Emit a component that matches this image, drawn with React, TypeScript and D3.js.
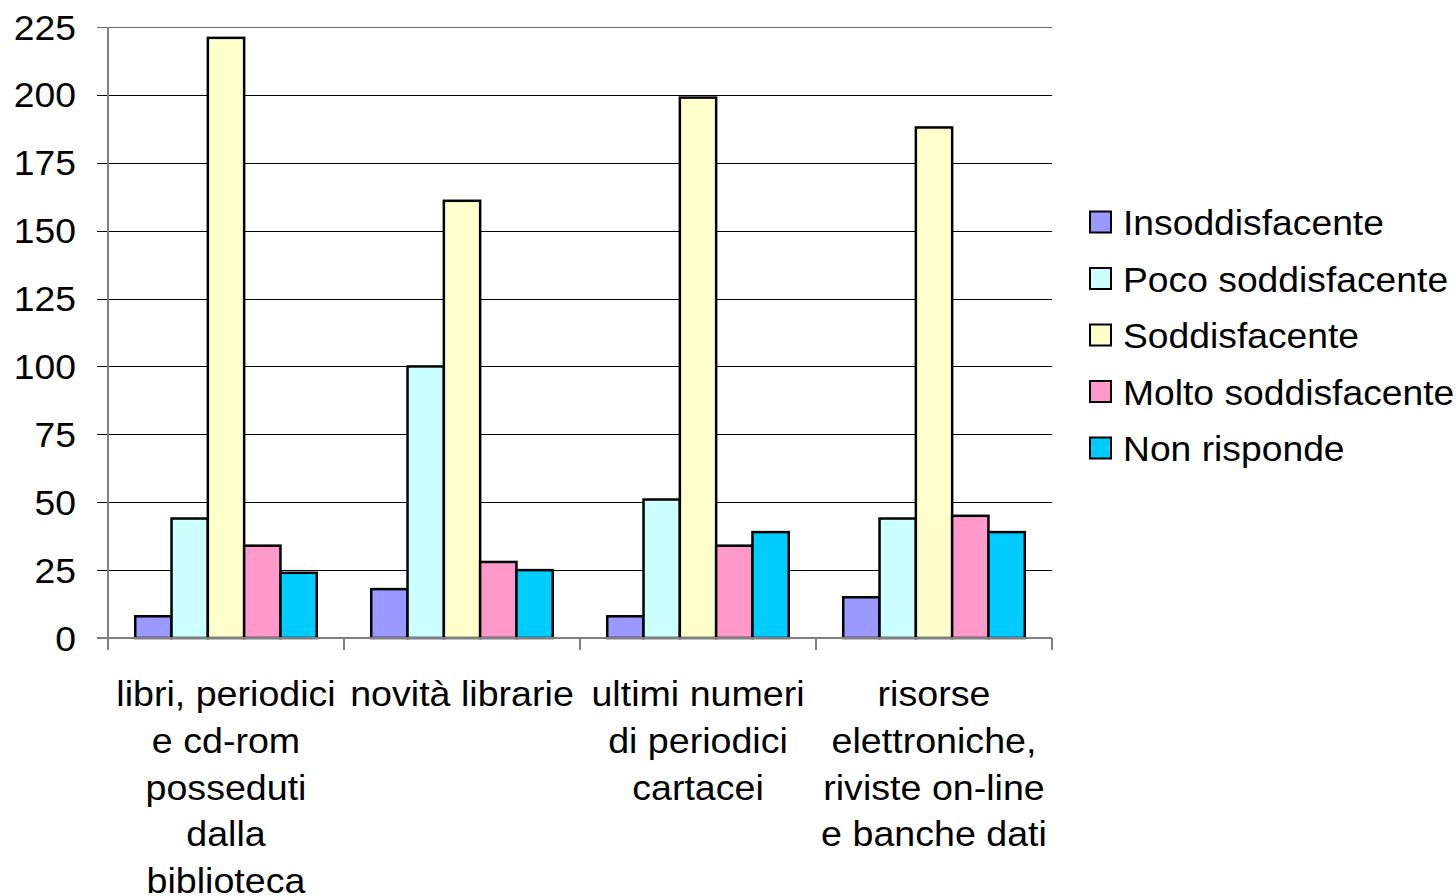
import React from "react";
import * as d3 from "d3";

const categories = [
  "libri, periodici e cd-rom posseduti dalla biblioteca",
  "novità librarie",
  "ultimi numeri di periodici cartacei",
  "risorse elettroniche, riviste on-line e banche dati",
];
const categoryLines = [
  ["libri, periodici", "e cd-rom", "posseduti", "dalla", "biblioteca"],
  ["novità librarie"],
  ["ultimi numeri", "di periodici", "cartacei"],
  ["risorse", "elettroniche,", "riviste on-line", "e banche dati"],
];
const seriesNames = [
  "Insoddisfacente",
  "Poco soddisfacente",
  "Soddisfacente",
  "Molto soddisfacente",
  "Non risponde",
];
const insoddisfacente = [8, 18, 8, 15];
const pocoSoddisfacente = [44, 100, 51, 44];
const soddisfacente = [221, 161, 199, 188];
const moltoSoddisfacente = [34, 28, 34, 45];
const nonRisponde = [24, 25, 39, 39];
const seriesValues = [insoddisfacente, pocoSoddisfacente, soddisfacente, moltoSoddisfacente, nonRisponde];
const seriesColors = ["#9999FF", "#CCFFFF", "#FFFFCC", "#FF99CC", "#00CCFF"];
const yTicks = [0, 25, 50, 75, 100, 125, 150, 175, 200, 225];

const FONT = "'Liberation Sans', Arial, sans-serif";

export default function App() {
  const left = 108, right = 1052, top = 27, bottom = 638;
  const y = d3.scaleLinear().domain([0, 225]).range([bottom, top]);
  const x0 = d3.scaleBand<string>().domain(categories).range([left, right]).padding(0);
  const x1 = d3
    .scaleBand<string>()
    .domain(seriesNames)
    .range([0, x0.bandwidth()])
    .paddingInner(0)
    .paddingOuter(0.75);
  const boundaries = [...categories.map((c) => x0(c) as number), right];

  return (
    <svg
      width={1456}
      height={896}
      style={{ position: "absolute", left: 0, top: 0, background: "#fff" }}
      fontFamily={FONT}
    >
      <rect x={0} y={0} width={1456} height={896} fill="#fff" />
      {/* gridlines */}
      {yTicks.map((t) => (
        <line
          key={"g" + t}
          x1={97}
          x2={right}
          y1={Math.round(y(t)) + 0.5}
          y2={Math.round(y(t)) + 0.5}
          stroke={t === 225 ? "#666" : "#000"}
          strokeWidth={1}
        />
      ))}
      {/* bars */}
      {categories.map((c, ci) =>
        seriesNames.map((s, si) => {
          const v = seriesValues[si][ci];
          const bx = (x0(c) as number) + (x1(s) as number);
          return (
            <rect
              key={c + s}
              x={bx}
              y={y(v)}
              width={x1.bandwidth()}
              height={bottom - y(v)}
              fill={seriesColors[si]}
              stroke="#000"
              strokeWidth={2.5}
            />
          );
        })
      )}
      {/* axes */}
      <line x1={left} x2={left} y1={top} y2={650} stroke="#808080" strokeWidth={2} />
      <line x1={97} x2={right} y1={bottom} y2={bottom} stroke="#808080" strokeWidth={2} />
      {boundaries.map((bx, i) => (
        <line key={"xt" + i} x1={bx} x2={bx} y1={bottom} y2={650} stroke="#808080" strokeWidth={2} />
      ))}
      {/* y tick labels */}
      {yTicks.map((t) => (
        <g key={"yl" + t} transform={`translate(76,${y(t) + 12.5}) scale(1.065,1)`}>
          <text x={0} y={0} textAnchor="end" fontSize={35} fill="#000">
            {t}
          </text>
        </g>
      ))}
      {/* category labels */}
      {categories.map((c, ci) => {
        const cx = (x0(c) as number) + x0.bandwidth() / 2;
        return (
          <g key={"cl" + ci} transform={`translate(${cx},706) scale(1.045,1)`}>
            <text x={0} y={0} textAnchor="middle" fontSize={36} fill="#000">
              {categoryLines[ci].map((ln, li) => (
                <tspan key={li} x={0} dy={li === 0 ? 0 : 46.8}>
                  {ln}
                </tspan>
              ))}
            </text>
          </g>
        );
      })}
      {/* legend */}
      {seriesNames.map((s, si) => {
        const cy = 222 + si * 56.5;
        return (
          <g key={"lg" + s}>
            <rect x={1090} y={cy - 10.5} width={21} height={21} fill={seriesColors[si]} stroke="#000" strokeWidth={2} />
            <g transform={`translate(1123,${cy + 13}) scale(1.035,1)`}>
              <text x={0} y={0} fontSize={36} fill="#000">
                {s}
              </text>
            </g>
          </g>
        );
      })}
    </svg>
  );
}
